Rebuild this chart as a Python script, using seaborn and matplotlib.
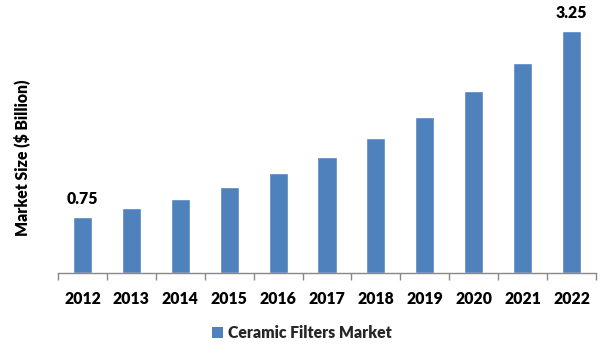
import matplotlib
matplotlib.use("Agg")
import matplotlib.pyplot as plt
import seaborn as sns
import pandas as pd
from matplotlib.patches import Patch

years = ["2012", "2013", "2014", "2015", "2016", "2017", "2018", "2019", "2020", "2021", "2022"]
values = [0.75, 0.87, 1.00, 1.16, 1.35, 1.56, 1.81, 2.10, 2.44, 2.82, 3.25]
labeled = {"2012": "0.75", "2022": "3.25"}
series_name = "Ceramic Filters Market"
y_label = "Market Size ($ Billion)"

sns.set_theme(style="white")
plt.rcParams['font.family'] = ['Lato', 'DejaVu Sans']

df = pd.DataFrame({"Year": years, "Value": values})

fig = plt.figure(figsize=(6.01, 3.61), dpi=100)
ax = fig.add_axes([58/601, 1-273/361, (596-58)/601, (273-12.5)/361])
color = "#4F81BD"
sns.barplot(data=df, x="Year", y="Value", color=color, width=0.39, ax=ax, saturation=1)

fs = 11.3
ax.set_xlim(-0.5, len(years)-0.5)
ax.set_ylim(0, 3.5)
ax.set_yticks([])
ax.set_xlabel("")
ax.set_ylabel(y_label, fontsize=fs, fontweight="heavy", color="black")
ax.yaxis.set_label_coords((30-58)/538, (273-158)/260.5)
for s in ["left", "top", "right"]:
    ax.spines[s].set_visible(False)
ax.spines["bottom"].set_color("#888888")
ax.spines["bottom"].set_linewidth(1)

ax.set_xticks(range(len(years)))
ax.set_xticklabels(years, fontsize=fs, fontweight="heavy", color="black")
ax.tick_params(axis="x", which="major", length=0, pad=13)
ax.set_xticks([i - 0.5 for i in range(len(years)+1)], minor=True)
ax.tick_params(axis="x", which="minor", length=5, color="#888888", width=1, direction="out", bottom=True)

for i, y in enumerate(years):
    if y in labeled:
        ax.annotate(labeled[y], (i, values[i]), xytext=(0, 7), textcoords="offset points",
                    ha="center", va="bottom", fontsize=fs, fontweight="heavy", color="black")

handle = Patch(facecolor=color, edgecolor="none")
fig.legend([handle], [series_name], loc="center", bbox_to_anchor=(302/601, 1-333/361),
           frameon=False, prop={"weight": "heavy", "size": fs},
           handlelength=0.7, handleheight=0.7, handletextpad=0.3)

fig.savefig("out.png", dpi=100)
